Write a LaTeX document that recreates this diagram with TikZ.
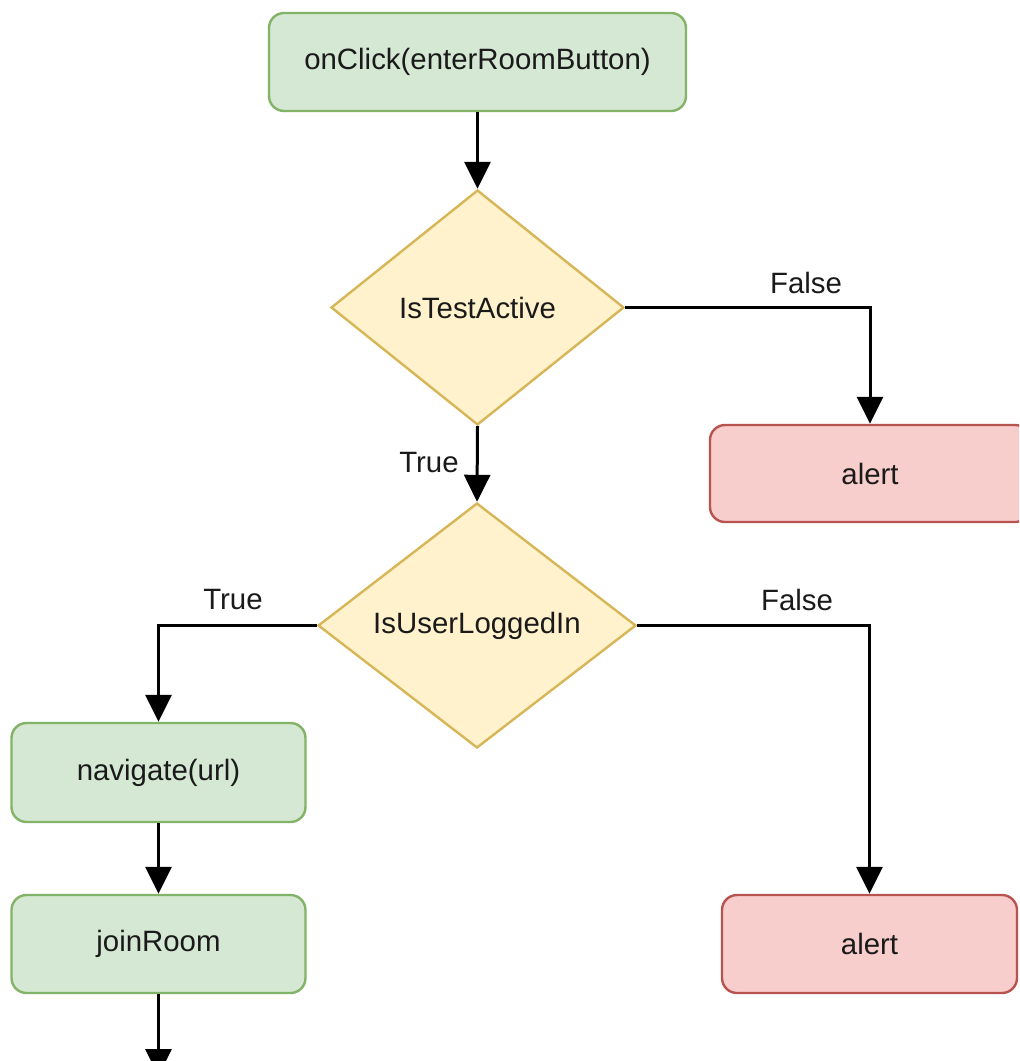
\documentclass[tikz,border=0pt]{standalone}
\usepackage{fontspec}
\setmainfont{Liberation Sans}
\usetikzlibrary{shapes.geometric,arrows.meta}

\definecolor{okfill}{HTML}{D5E8D4}
\definecolor{okline}{HTML}{82B366}
\definecolor{askfill}{HTML}{FFF2CC}
\definecolor{askline}{HTML}{D6B656}
\definecolor{errfill}{HTML}{F8CECC}
\definecolor{errline}{HTML}{B85450}
\definecolor{ink}{HTML}{1A1A1A}

\tikzset{
  basebox/.style={rectangle, rounded corners=7.5pt, line width=1.2pt, inner sep=0pt,
    font=\fontsize{14.7pt}{17pt}\selectfont, text=ink},
  actionbox/.style={basebox, fill=okfill, draw=okline},
  alertbox/.style={basebox, fill=errfill, draw=errline},
  decision/.style={diamond, fill=askfill, draw=askline, line width=1.2pt, inner sep=0pt,
    font=\fontsize{14.7pt}{17pt}\selectfont, text=ink},
  flow/.style={draw=black, line width=1.5pt, -{Triangle[length=13.5pt,width=13pt]}},
  branch/.style={font=\fontsize{14.7pt}{17pt}\selectfont, text=ink, inner sep=0pt}
}

\begin{document}
\begin{tikzpicture}[x=0.5pt, y=-0.5pt]
  \useasboundingbox (0,0) rectangle (1019,1061);
  \clip (0,0) rectangle (1019,1061);

  % steps of the flow
  \node[actionbox, minimum width=208.5pt, minimum height=49pt] (start) at (477.5,62) {onClick(enterRoomButton)};
  \node[decision, minimum width=146.5pt, minimum height=117.5pt] (test) at (477.5,307.5) {IsTestActive};
  \node[alertbox, minimum width=160pt, minimum height=48.5pt] (alertA) at (870,473.5) {alert};
  \node[decision, minimum width=159pt, minimum height=122.5pt] (logged) at (477,625.5) {IsUserLoggedIn};
  \node[actionbox, minimum width=147pt, minimum height=49.5pt] (nav) at (158.5,772.5) {navigate(url)};
  \node[actionbox, minimum width=147pt, minimum height=49pt] (join) at (158.5,944) {joinRoom};
  \node[alertbox, minimum width=147.5pt, minimum height=49pt] (alertB) at (869.5,944) {alert};
  \coordinate (next) at (158.5,1076);

  % connectors
  \draw[flow] (start.south) -- (test.north);
  \draw[flow] (test.east) -| (alertA.north);
  \draw[flow] (test.south) -- (logged.north);
  \draw[flow] (logged.west) -| (nav.north);
  \draw[flow] (logged.east) -| (alertB.north);
  \draw[flow] (nav.south) -- (join.north);
  \draw[flow] (join.south) -- (next);

  % branch labels
  \node[branch] (testNo) at (806,283) {False};
  \node[branch] (testYes) at (429,463) {True};
  \node[branch] (loggedYes) at (233,600) {True};
  \node[branch] (loggedNo) at (797,600) {False};
\end{tikzpicture}
\end{document}
